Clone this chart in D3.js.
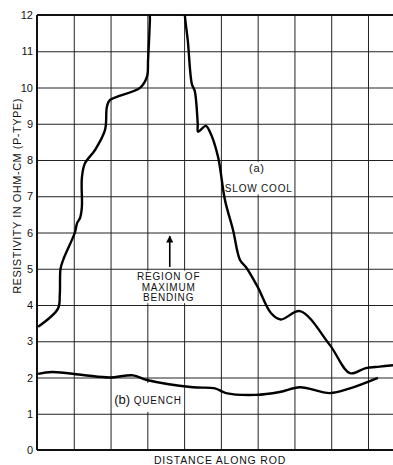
<!DOCTYPE html>
<html>
<head>
<meta charset="utf-8">
<script src="https://cdn.jsdelivr.net/npm/d3@7"></script>
<style>
  body { margin: 0; background: #fff; }
  svg { display: block; font-family: "Liberation Sans", Arial, sans-serif; }
  .grid line { stroke: #222; stroke-width: 1; }
  .grid path { display: none; }
  .ylab text { font-size: 11px; fill: #111; }
  .note { font-size: 10px; fill: #111; letter-spacing: 0.8px; }
</style>
</head>
<body>
<div class="chart"></div>
<script>
// slow cool curve (a): distance (grid units), resistivity
var slowX = [0.03, 0.57, 0.62, 0.64, 0.71, 1.03, 1.09, 1.17, 1.22, 1.22, 1.30, 1.58, 1.85, 1.90, 1.98, 2.80, 2.99, 3.02, 3.07, 3.09,
             4.00, 4.02, 4.10, 4.21, 4.29, 4.37, 4.38, 4.59, 4.70, 4.92, 5.11, 5.33, 5.52, 5.68, 6.00, 6.36, 6.63, 7.15, 7.96, 8.51, 8.94, 9.32, 9.68];
var slowY = [3.40, 3.90, 4.30, 5.00, 5.24, 6.00, 6.26, 6.40, 6.70, 7.50, 7.90, 8.28, 8.83, 9.46, 9.65, 9.99, 10.3, 10.76, 11.86, 12.6,
             12.6, 12.0, 11.3, 10.1, 9.90, 9.00, 8.78, 8.94, 8.78, 8.10, 6.90, 6.07, 5.24, 5.05, 4.50, 3.78, 3.60, 3.83, 2.90, 2.12, 2.26, 2.30, 2.34];

// quench curve (b)
var quenchX = [0.03, 0.41, 1.25, 1.98, 2.61, 2.99, 4.24, 4.84, 5.14, 5.95, 6.60, 7.15, 7.96, 8.51, 9.27];
var quenchY = [2.10, 2.15, 2.07, 2.00, 2.06, 1.93, 1.73, 1.70, 1.57, 1.52, 1.60, 1.73, 1.57, 1.70, 1.99];

var yTicks = [0, 1, 2, 3, 4, 5, 6, 7, 8, 9, 10, 11, 12];
var xGrid = [1, 2, 3, 4, 5, 6, 7, 8, 9];

var W = 393, H = 465;
var margin = {top: 15, right: 0, bottom: 15, left: 37},
    width = W - margin.left - margin.right,
    height = H - margin.top - margin.bottom;

var svg = d3.select(".chart").append("svg")
    .attr("width", W)
    .attr("height", H);

var g = svg.append("g")
    .attr("transform", "translate(" + margin.left + "," + margin.top + ")");

var x = d3.scaleLinear().domain([0, 9.68]).range([0, width]);
var y = d3.scaleLinear().domain([0, 12]).range([height, 0]);

// horizontal grid + tick labels
g.append("g")
    .attr("class", "grid ylab")
    .call(d3.axisLeft(y).tickValues(yTicks).tickSize(-width).tickPadding(4).tickFormat(d3.format("d")));

// vertical grid
g.append("g")
    .attr("class", "grid")
    .attr("transform", "translate(0," + height + ")")
    .call(d3.axisBottom(x).tickValues(xGrid).tickSize(-height).tickFormat(""));

// heavy frame lines
g.append("line").attr("x1", 0).attr("x2", 0).attr("y1", 0).attr("y2", height)
    .attr("stroke", "#111").attr("stroke-width", 2);
g.append("line").attr("x1", 0).attr("x2", width).attr("y1", 0).attr("y2", 0)
    .attr("stroke", "#111").attr("stroke-width", 2);
g.append("line").attr("x1", 0).attr("x2", width).attr("y1", height).attr("y2", height)
    .attr("stroke", "#111").attr("stroke-width", 2);

// white label boxes over the grid
function box(x0, x1, y0, y1) {
    g.append("rect")
        .attr("x", x(x0)).attr("y", y(y1))
        .attr("width", x(x1) - x(x0)).attr("height", y(y0) - y(y1))
        .attr("fill", "#fff");
}
box(5.15, 6.95, 7.05, 7.95);
box(2.35, 4.45, 4.05, 4.95);
box(2.05, 4.0, 1.05, 1.85);

g.append("clipPath").attr("id", "clip")
    .append("rect").attr("width", width).attr("height", height);

var line = d3.line()
    .x(function (d) { return x(d[0]); })
    .y(function (d) { return y(d[1]); })
    .curve(d3.curveCatmullRom.alpha(0.5));

g.append("path")
    .datum(d3.zip(slowX, slowY))
    .attr("clip-path", "url(#clip)")
    .attr("d", line)
    .attr("fill", "none")
    .attr("stroke", "#000")
    .attr("stroke-width", 2.4);

g.append("path")
    .datum(d3.zip(quenchX, quenchY))
    .attr("d", line)
    .attr("fill", "none")
    .attr("stroke", "#000")
    .attr("stroke-width", 2.4);

// annotations
g.append("text").attr("class", "note")
    .attr("x", x(5.98)).attr("y", y(7.85) + 7)
    .style("text-anchor", "middle").style("font-size", "11px")
    .text("(a)");
g.append("text").attr("class", "note")
    .attr("x", x(6.03)).attr("y", y(7.15) + 1)
    .style("text-anchor", "middle")
    .text("SLOW COOL");

["REGION  OF", "MAXIMUM", "BENDING"].forEach(function (t, i) {
    g.append("text").attr("class", "note")
        .attr("x", x(3.58)).attr("y", y(4.8) + 4 + i * 10.5)
        .style("text-anchor", "middle")
        .style("font-size", "10px")
        .text(t);
});

// arrow pointing up
svg.append("defs").append("marker")
    .attr("id", "arr").attr("viewBox", "0 0 10 10")
    .attr("refX", 9).attr("refY", 5)
    .attr("markerWidth", 4.5).attr("markerHeight", 4.5)
    .attr("orient", "auto")
    .append("path").attr("d", "M0,0 L10,5 L0,10 z").attr("fill", "#000");
g.append("line")
    .attr("x1", x(3.61)).attr("x2", x(3.61))
    .attr("y1", y(5.05)).attr("y2", y(5.9))
    .attr("stroke", "#000").attr("stroke-width", 1.6)
    .attr("marker-end", "url(#arr)");

var qt = g.append("text").attr("class", "note")
    .attr("x", x(2.1)).attr("y", y(1.4) + 5);
qt.append("tspan").style("font-size", "13px").style("letter-spacing", "0px").text("(b) ");
qt.append("tspan").text("QUENCH");

// axis titles
svg.append("text").attr("class", "note")
    .attr("transform", "translate(21,196) rotate(-90)")
    .style("text-anchor", "middle")
    .style("font-size", "11px")
    .style("letter-spacing", "0.5px")
    .text("RESISTIVITY IN OHM-CM (P-TYPE)");

svg.append("text").attr("class", "note")
    .attr("x", 220).attr("y", 464)
    .style("text-anchor", "middle")
    .style("font-size", "10.5px")
    .text("DISTANCE ALONG ROD");
</script>
</body>
</html>
